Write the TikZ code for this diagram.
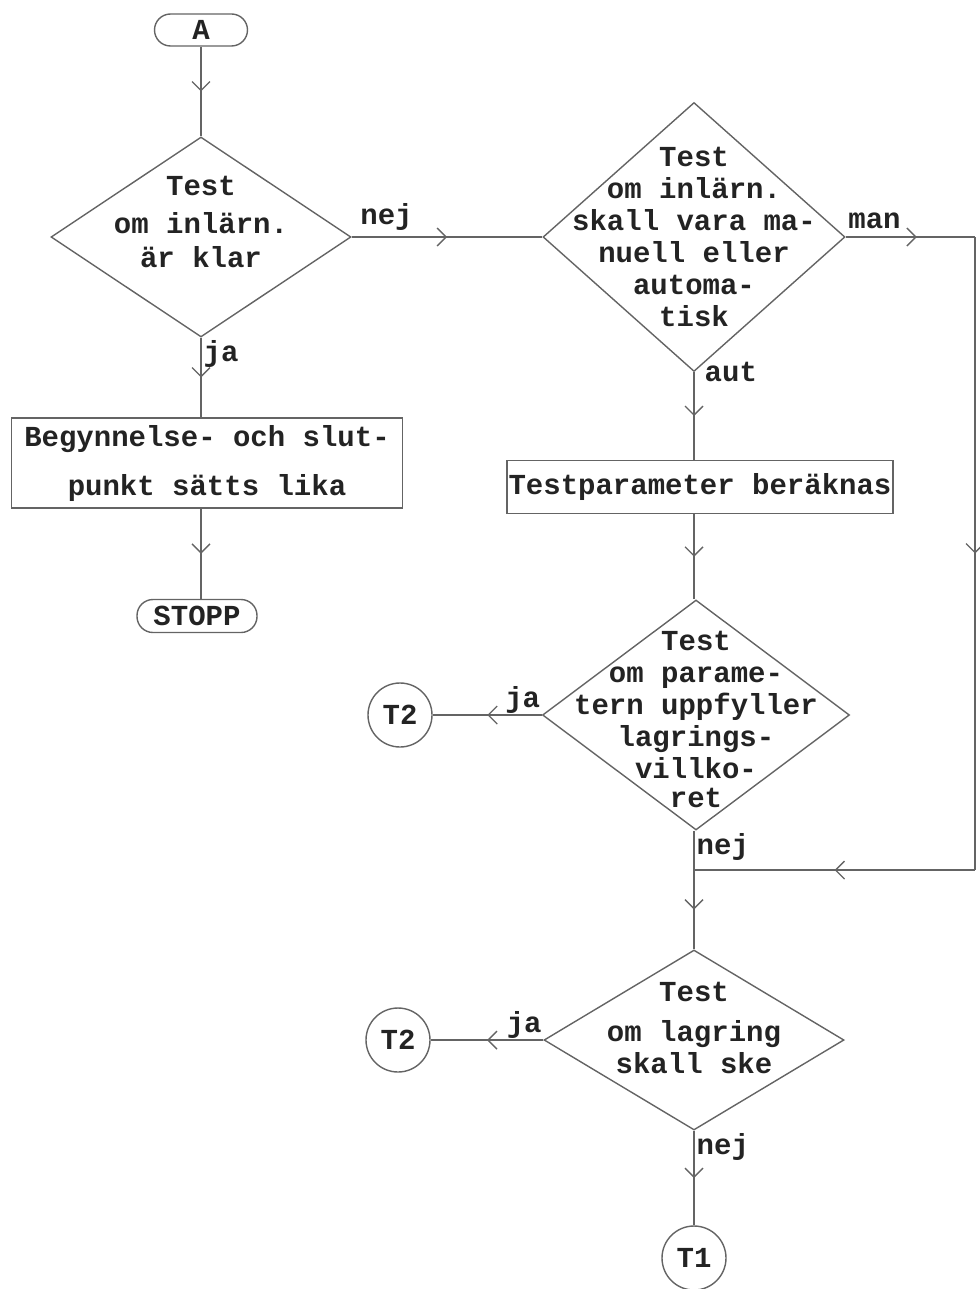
\documentclass[tikz,border=0pt]{standalone}
\usepackage{fontspec}
\setmainfont{Liberation Mono}
\usetikzlibrary{arrows.meta,shapes.geometric,decorations.markings}
\definecolor{lineCol}{RGB}{100,100,100}
\definecolor{inkCol}{RGB}{35,35,35}
\tikzset{
  box/.style={draw=lineCol,line width=1.4pt,inner sep=0pt,text=inkCol},
  term/.style={box,rounded corners=16pt,minimum height=32pt},
  proc/.style={box,rectangle,inner xsep=1pt,align=center},
  dec/.style={box,diamond},
  conn/.style={box,circle,minimum size=64pt},
  txt/.style={align=center,text=inkCol,inner sep=0pt},
  lab/.style={text=inkCol,inner sep=2pt},
  plain/.style={draw=lineCol,line width=1.4pt},
  flow/.style={plain,postaction={decorate},
    decoration={markings,mark=at position #1 with {\arrow{Straight Barb[length=9pt,width=18pt]}}}},
  flow/.default=0.5,
}

\begin{document}
\begin{tikzpicture}[x=1pt,y=-1pt,font=\fontsize{29}{32}\selectfont\bfseries]
  \useasboundingbox (0,0) rectangle (979,1289);
  % --- left column: A, klar-test, lika, STOPP ---
  \node[term,minimum width=93pt] (A) at (201,30) {A};
  \node[dec,minimum width=300pt,minimum height=200pt] (d1) at (201,237) {};
  \node[txt,yshift=15pt] (d1t) at (d1) {Test\\[6pt]om inlärn.\\[2pt]är klar};
  \node[proc,minimum width=391pt,minimum height=90pt] (lika) at (207,463)
      {Begynnelse- och slut-\\[17pt]punkt sätts lika};
  \node[term,minimum width=120pt,minimum height=33pt] (stopp) at (197,616) {STOPP};
  % --- right column: manuell/automatisk, parameter, lagring ---
  \node[dec,minimum width=302pt,minimum height=269pt] (d2) at (694,237) {};
  \node[txt] (d2t) at (d2) {Test\\om inlärn.\\skall vara ma-\\nuell eller\\automa-\\tisk};
  \node[proc,minimum width=386pt,minimum height=53pt] (param) at (700,487) {Testparameter beräknas};
  \node[dec,minimum width=307pt,minimum height=230pt] (d3) at (696,715) {};
  \node[txt,yshift=-4pt] (d3t) at (d3) {Test\\om parame-\\tern uppfyller\\lagrings-\\villko-\\[-3pt]ret};
  \node[dec,minimum width=300pt,minimum height=180pt] (d4) at (694,1040) {};
  \node[txt,yshift=12pt] (d4t) at (d4) {Test\\[8pt]om lagring\\skall ske};
  % --- connectors ---
  \node[conn] (t2a) at (400,715) {T2};
  \node[conn] (t2b) at (398,1040) {T2};
  \node[conn] (t1) at (694,1258) {T1};
  \coordinate (mr) at (975,237);
  \coordinate (mb) at (975,870);
  \coordinate (jn) at (694,870);
  % --- flow lines ---
  \draw[flow] (A) -- (d1);
  \draw[flow] (d1.south) -- (d1.south |- lika.north)
      node[lab,pos=0,anchor=north west] {ja};
  \draw[flow] (lika.south -| d1.south) -- (stopp.north -| d1.south);
  \draw[flow] (d1.east) -- (d2.west)
      node[lab,pos=0,anchor=south west,xshift=6pt,yshift=4pt] {nej};
  \draw[flow=0.55] (d2.east) -- (mr)
      node[lab,pos=0,anchor=south west,yshift=6pt] {man};
  \draw[flow] (mr) -- (mb);
  \draw[flow] (mb) -- (jn);
  \draw[flow] (d2.south) -- (d2.south |- param.north)
      node[lab,pos=0,anchor=west,xshift=8pt] {aut};
  \draw[flow] (param.south -| d2.south) -- (d3.north -| d2.south);
  \draw[flow] (d3.west) -- (t2a)
      node[lab,pos=0,anchor=south east,inner sep=1pt] {ja};
  \draw[plain] (d3.south -| jn) -- (jn)
      node[lab,pos=0,anchor=north west] {nej};
  \draw[flow] (jn) -- (d4.north);
  \draw[flow] (d4.west) -- (t2b)
      node[lab,pos=0,anchor=south east,inner sep=1pt] {ja};
  \draw[flow] (d4.south) -- (t1)
      node[lab,pos=0,anchor=north west] {nej};
\end{tikzpicture}
\end{document}
